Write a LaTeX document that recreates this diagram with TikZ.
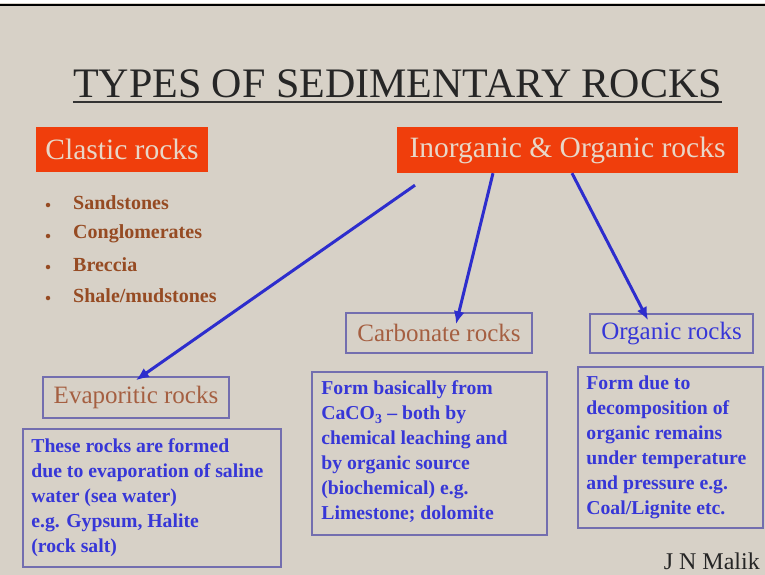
\documentclass[tikz,border=0pt]{standalone}
\usepackage{fontspec}
\setmainfont{Liberation Serif}
\usetikzlibrary{arrows.meta}
\definecolor{bgc}{RGB}{215,209,199}
\definecolor{orangebox}{RGB}{240,62,12}
\definecolor{lighttext}{RGB}{232,215,200}
\definecolor{bulletbrown}{RGB}{150,75,35}
\definecolor{labelbrown}{RGB}{165,95,65}
\definecolor{bluetext}{RGB}{55,55,215}
\definecolor{boxline}{RGB}{115,110,175}
\definecolor{arrowblue}{RGB}{45,45,205}
\tikzset{
  redbox/.style={fill=orangebox, text=lighttext, inner sep=0pt, font=\fontsize{29.5}{34}\selectfont},
  labelbox/.style={draw=boxline, line width=1.6pt, inner sep=0pt, font=\fontsize{25}{30}\selectfont},
  descframe/.style={draw=boxline, line width=1.6pt, inner sep=0pt},
  desctext/.style={anchor=west, inner sep=0pt, align=left, text=bluetext, font=\bfseries\fontsize{19.7}{25}\selectfont},
  bulletitem/.style={anchor=west, inner sep=0pt, text=bulletbrown, font=\bfseries\fontsize{20}{24}\selectfont},
  bulletdot/.style={circle, inner sep=0pt, minimum size=4.5pt, fill=bulletbrown},
  arr/.style={draw=arrowblue, line width=3pt, -{Latex[length=13pt,width=11pt]}}
}
\begin{document}
\begin{tikzpicture}[x=1pt,y=-1pt]
\useasboundingbox (0,0) rectangle (765,575);
\fill[bgc] (0,0) rectangle (765,575);
\fill[white] (0,0) rectangle (765,3.5);
\draw[black, line width=2.5pt] (0,4.8) -- (765,4.8);

% title
\node[anchor=base, inner sep=0pt, font=\fontsize{42}{48}\selectfont, text=black!85] (title) at (397.5,98) {TYPES OF SEDIMENTARY ROCKS};
\draw[black!80, line width=2pt] ([yshift=-4pt]title.base west) -- ([yshift=-4pt]title.base east);

% top boxes
\node[redbox, minimum width=172pt, minimum height=45pt] (clastic) at (122,149.5) {Clastic rocks};
\node[redbox, minimum width=341pt, minimum height=46pt] (inorg) at (567.5,150) {Inorganic \& Organic rocks};

% bullet list
\foreach \y/\t/\n in {203/Sandstones/b1, 234/Conglomerates/b2, 265/Breccia/b3, 296/Shale\slash mudstones/b4}{
  \node[bulletdot] (\n dot) at (48,\y+2) {};
  \node[bulletitem] (\n) at (73,\y) {\t};
}

% labels
\node[labelbox, text=labelbrown, minimum width=186pt, minimum height=41pt] (evap) at (136,397.5) {Evaporitic rocks};
\node[labelbox, text=labelbrown, minimum width=186pt, minimum height=40pt] (carb) at (439,333) {Carbonate rocks};
\node[labelbox, text=bluetext, minimum width=163pt, minimum height=39pt] (org) at (671.5,333.5) {Organic rocks};

% descriptions
\node[descframe, minimum width=258pt, minimum height=138pt] (evapdesc) at (152,498) {};
\node[desctext] (evaptext) at ([xshift=9pt]evapdesc.west)
  {These rocks are formed\\due to evaporation of saline\\water (sea water)\\e.g. Gypsum, Halite\\(rock salt)};
\node[descframe, minimum width=235pt, minimum height=163pt] (carbdesc) at (429.5,453.5) {};
\node[desctext] (carbtext) at ([xshift=10pt,yshift=1.5pt]carbdesc.west)
  {Form basically from\\CaCO\textsubscript{3} -- both by\\chemical leaching and\\by organic source\\(biochemical) e.g.\\Limestone; dolomite};
\node[descframe, minimum width=185pt, minimum height=161pt] (orgdesc) at (670.5,447.5) {};
\node[desctext] (orgtext) at ([xshift=9pt]orgdesc.west)
  {Form due to\\decomposition of\\organic remains\\under temperature\\and pressure e.g.\\Coal/Lignite etc.};

% author
\node[anchor=base east, inner sep=0pt, font=\fontsize{24}{28}\selectfont, text=black!85] (author) at (760,569) {J N Malik};

% arrows
\coordinate (a1s) at ([xshift=-152.5pt,yshift=-12pt]inorg.south);
\coordinate (a1e) at ([yshift=-4pt]evap.north);
\coordinate (a2s) at ([xshift=-74.5pt]inorg.south);
\coordinate (a2e) at ([xshift=17pt,yshift=-12pt]carb.north);
\coordinate (a3s) at ([xshift=4.5pt]inorg.south);
\coordinate (a3e) at ([xshift=-23.5pt,yshift=-7pt]org.north);
\draw[arr] (a1s) -- (a1e);
\draw[arr] (a2s) -- (a2e);
\draw[arr] (a3s) -- (a3e);
\end{tikzpicture}
\end{document}
